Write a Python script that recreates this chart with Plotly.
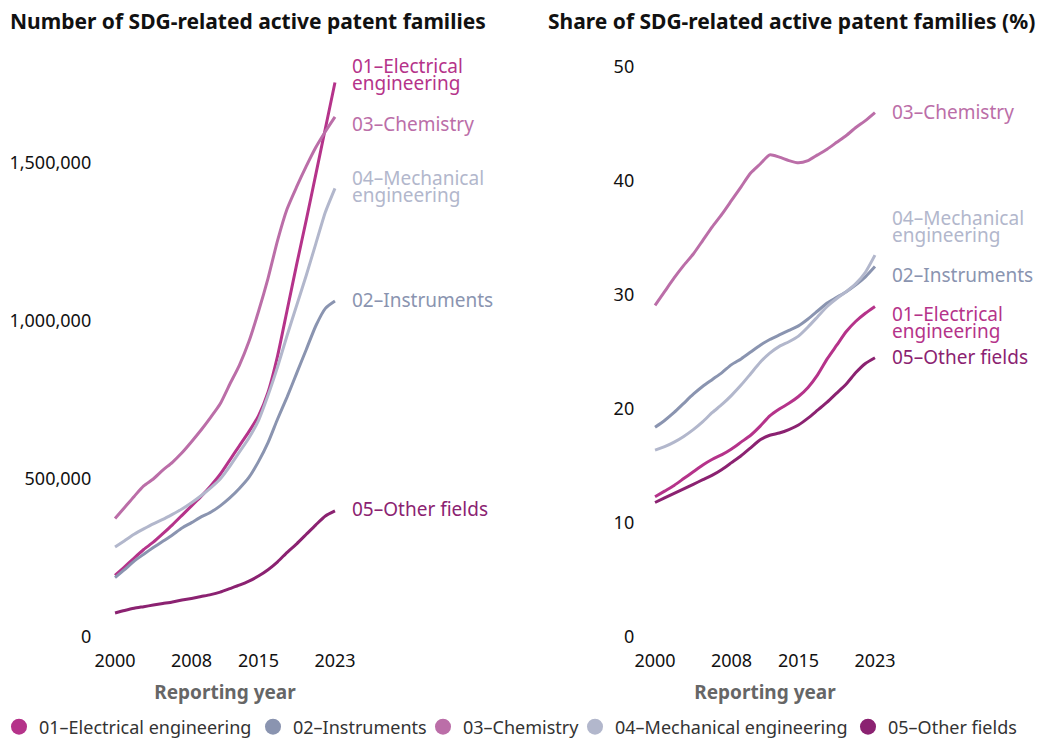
import plotly.graph_objects as go

years = list(range(2000, 2024))

fields = ["01–Electrical engineering", "02–Instruments", "03–Chemistry",
          "04–Mechanical engineering", "05–Other fields"]
colors = ["#b5338a", "#8a94b0", "#bb6ea8", "#b2b7cc", "#8b2271"]

# Number of SDG-related active patent families
count_01 = [195e3, 222e3, 250e3, 277e3, 300e3, 327e3, 355e3, 385e3, 415e3, 445e3, 478e3, 515e3,
            560e3, 605e3, 650e3, 700e3, 775e3, 890e3, 1035e3, 1180e3, 1320e3, 1465e3, 1610e3, 1755e3]
count_02 = [188e3, 213e3, 240e3, 262e3, 283e3, 303e3, 323e3, 345e3, 362e3, 380e3, 395e3, 415e3,
            440e3, 470e3, 505e3, 555e3, 615e3, 690e3, 760e3, 835e3, 910e3, 985e3, 1040e3, 1063e3]
count_03 = [375e3, 410e3, 445e3, 478e3, 500e3, 528e3, 553e3, 583e3, 618e3, 655e3, 695e3, 738e3,
            800e3, 860e3, 935e3, 1030e3, 1135e3, 1255e3, 1355e3, 1425e3, 1490e3, 1550e3, 1600e3, 1646e3]
count_04 = [285e3, 305e3, 325e3, 342e3, 358e3, 372e3, 388e3, 405e3, 425e3, 447e3, 472e3, 500e3,
            540e3, 585e3, 630e3, 685e3, 765e3, 855e3, 955e3, 1050e3, 1145e3, 1245e3, 1345e3, 1420e3]
count_05 = [76e3, 84e3, 91e3, 96e3, 101e3, 106e3, 111e3, 117e3, 122e3, 128e3, 134e3, 142e3,
            153e3, 164e3, 177e3, 193e3, 213e3, 238e3, 268e3, 295e3, 325e3, 355e3, 383e3, 399e3]

# Share of SDG-related active patent families (%)
share_01 = [12.3, 12.8, 13.3, 13.9, 14.5, 15.1, 15.6, 16.0, 16.5, 17.1, 17.7, 18.5,
            19.4, 20.0, 20.5, 21.1, 21.9, 23.0, 24.4, 25.6, 26.8, 27.7, 28.4, 29.0]
share_02 = [18.4, 19.0, 19.7, 20.5, 21.3, 22.0, 22.6, 23.2, 23.9, 24.4, 25.0, 25.6,
            26.1, 26.5, 26.9, 27.3, 27.9, 28.6, 29.3, 29.8, 30.3, 30.9, 31.6, 32.5]
share_03 = [29.1, 30.3, 31.5, 32.6, 33.6, 34.8, 36.0, 37.1, 38.3, 39.5, 40.7, 41.5,
            42.3, 42.1, 41.8, 41.6, 41.8, 42.3, 42.8, 43.4, 44.0, 44.7, 45.3, 46.0]
share_04 = [16.4, 16.7, 17.1, 17.6, 18.2, 18.9, 19.7, 20.4, 21.2, 22.1, 23.1, 24.1,
            24.9, 25.5, 25.9, 26.4, 27.2, 28.1, 29.0, 29.7, 30.3, 31.0, 32.0, 33.5]
share_05 = [11.8, 12.2, 12.6, 13.0, 13.4, 13.8, 14.2, 14.7, 15.3, 15.9, 16.6, 17.3,
            17.7, 17.9, 18.2, 18.6, 19.2, 19.9, 20.6, 21.4, 22.2, 23.2, 24.0, 24.5]

counts = [count_01, count_02, count_03, count_04, count_05]
shares = [share_01, share_02, share_03, share_04, share_05]

# end-label text and label centre (data units) per panel
label_text = [["01–Electrical", "engineering"], ["02–Instruments"], ["03–Chemistry"],
              ["04–Mechanical", "engineering"], ["05–Other fields"]]
left_label_y = [1779e3, 1066e3, 1624e3, 1427e3, 405e3]
right_label_y = [27.6, 31.8, 46.1, 36.0, 24.6]

FONT = "Noto Sans"
OFF = 8  # page body margin
W, H = 1048 - OFF, 742 - OFF


def px(v):
    return (v - OFF) / W


def py(v):
    return 1 - (v - OFF) / H


fig = go.Figure()

for i in range(5):
    fig.add_trace(go.Scatter(x=years, y=counts[i], mode="lines", line=dict(color=colors[i], width=3, shape="spline", smoothing=0.6),
                             showlegend=False, hoverinfo="skip", xaxis="x", yaxis="y"))
    fig.add_trace(go.Scatter(x=years, y=shares[i], mode="lines", line=dict(color=colors[i], width=3, shape="spline", smoothing=0.6),
                             showlegend=False, hoverinfo="skip", xaxis="x2", yaxis="y2"))

# one small legend per entry so the row keeps the reference spacing
legend_symbol_x = [17, 271, 441, 593, 866]
legend_names = ["legend", "legend2", "legend3", "legend4", "legend5"]
for i in range(5):
    fig.add_trace(go.Scatter(x=[None], y=[None], mode="markers", name=fields[i], legend=legend_names[i],
                             marker=dict(color=colors[i], size=18, symbol="circle")))

annotations = []
shapes = []
for axis, series, laby in [("", counts, left_label_y), ("2", shares, right_label_y)]:
    for i in range(5):
        y_end = series[i][-1]
        lines = label_text[i]
        n = len(lines)
        for k, t in enumerate(lines):
            annotations.append(dict(x=2023, y=laby[i], xref="x" + axis, yref="y" + axis, text=t, showarrow=False,
                                    xanchor="left", yanchor="middle", xshift=15, yshift=(n - 1) * 8.5 - k * 17,
                                    font=dict(family=FONT, size=19, color=colors[i])))
        conn = dict(type="line", xref="x" + axis, yref="y" + axis, xsizemode="pixel", xanchor=2023,
                    line=dict(color="#b0b0b0", width=1))
        shapes.append(dict(conn, x0=10, x1=10, y0=y_end, y1=laby[i]))
        shapes.append(dict(conn, x0=10, x1=14, y0=y_end, y1=y_end))
        shapes.append(dict(conn, x0=10, x1=14, y0=laby[i], y1=laby[i]))

annotations.append(dict(x=px(8), y=py(21), xref="paper", yref="paper", showarrow=False, xanchor="left", yanchor="middle",
                        text="<b>Number of SDG-related active patent families</b>", font=dict(family=FONT, size=21, color="#111")))
annotations.append(dict(x=px(546), y=py(21), xref="paper", yref="paper", showarrow=False, xanchor="left", yanchor="middle",
                        text="<b>Share of SDG-related active patent families (%)</b>", font=dict(family=FONT, size=21, color="#111")))

ydom = [py(645), py(50)]
xcommon = dict(tickvals=[2000, 2008, 2015, 2023], showgrid=False, zeroline=False, showline=False, ticks="",
               automargin=False, ticklabelstandoff=3, tickfont=dict(family=FONT, size=18, color="#111"),
               title=dict(text="<b>Reporting year</b>", font=dict(family=FONT, size=19, color="#666"), standoff=14))
ycommon = dict(showgrid=False, zeroline=False, showline=False, ticks="", automargin=False,
               tickfont=dict(family=FONT, size=18, color="#111"))

legend_style = dict(orientation="h", xanchor="left", y=py(727), yanchor="middle", bgcolor="rgba(0,0,0,0)",
                    font=dict(family=FONT, size=18, color="#333"), itemwidth=30)
legends = {legend_names[i]: dict(legend_style, x=px(legend_symbol_x[i] - 18)) for i in range(5)}

fig.update_layout(
    width=W, height=H,
    margin=dict(l=0, r=0, t=0, b=0, autoexpand=False),
    paper_bgcolor="white", plot_bgcolor="white",
    font=dict(family=FONT),
    xaxis=dict(domain=[px(111.2), px(338.8)], range=[1999.6, 2023.4], anchor="y", **xcommon),
    yaxis=dict(domain=ydom, range=[-25.3e3, 1857.7e3], tickvals=[0, 500e3, 1000e3, 1500e3],
               ticktext=["0", "500,000", "1,000,000", "1,500,000"], anchor="x", ticklabelstandoff=19, **ycommon),
    xaxis2=dict(domain=[px(651.2), px(878.8)], range=[1999.6, 2023.4], anchor="y2", **xcommon),
    yaxis2=dict(domain=ydom, range=[-0.7, 51.5], tickvals=[0, 10, 20, 30, 40, 50], anchor="x2",
                ticklabelstandoff=16, **ycommon),
    annotations=annotations,
    shapes=shapes,
    **legends,
)

fig.write_html("out.html")
